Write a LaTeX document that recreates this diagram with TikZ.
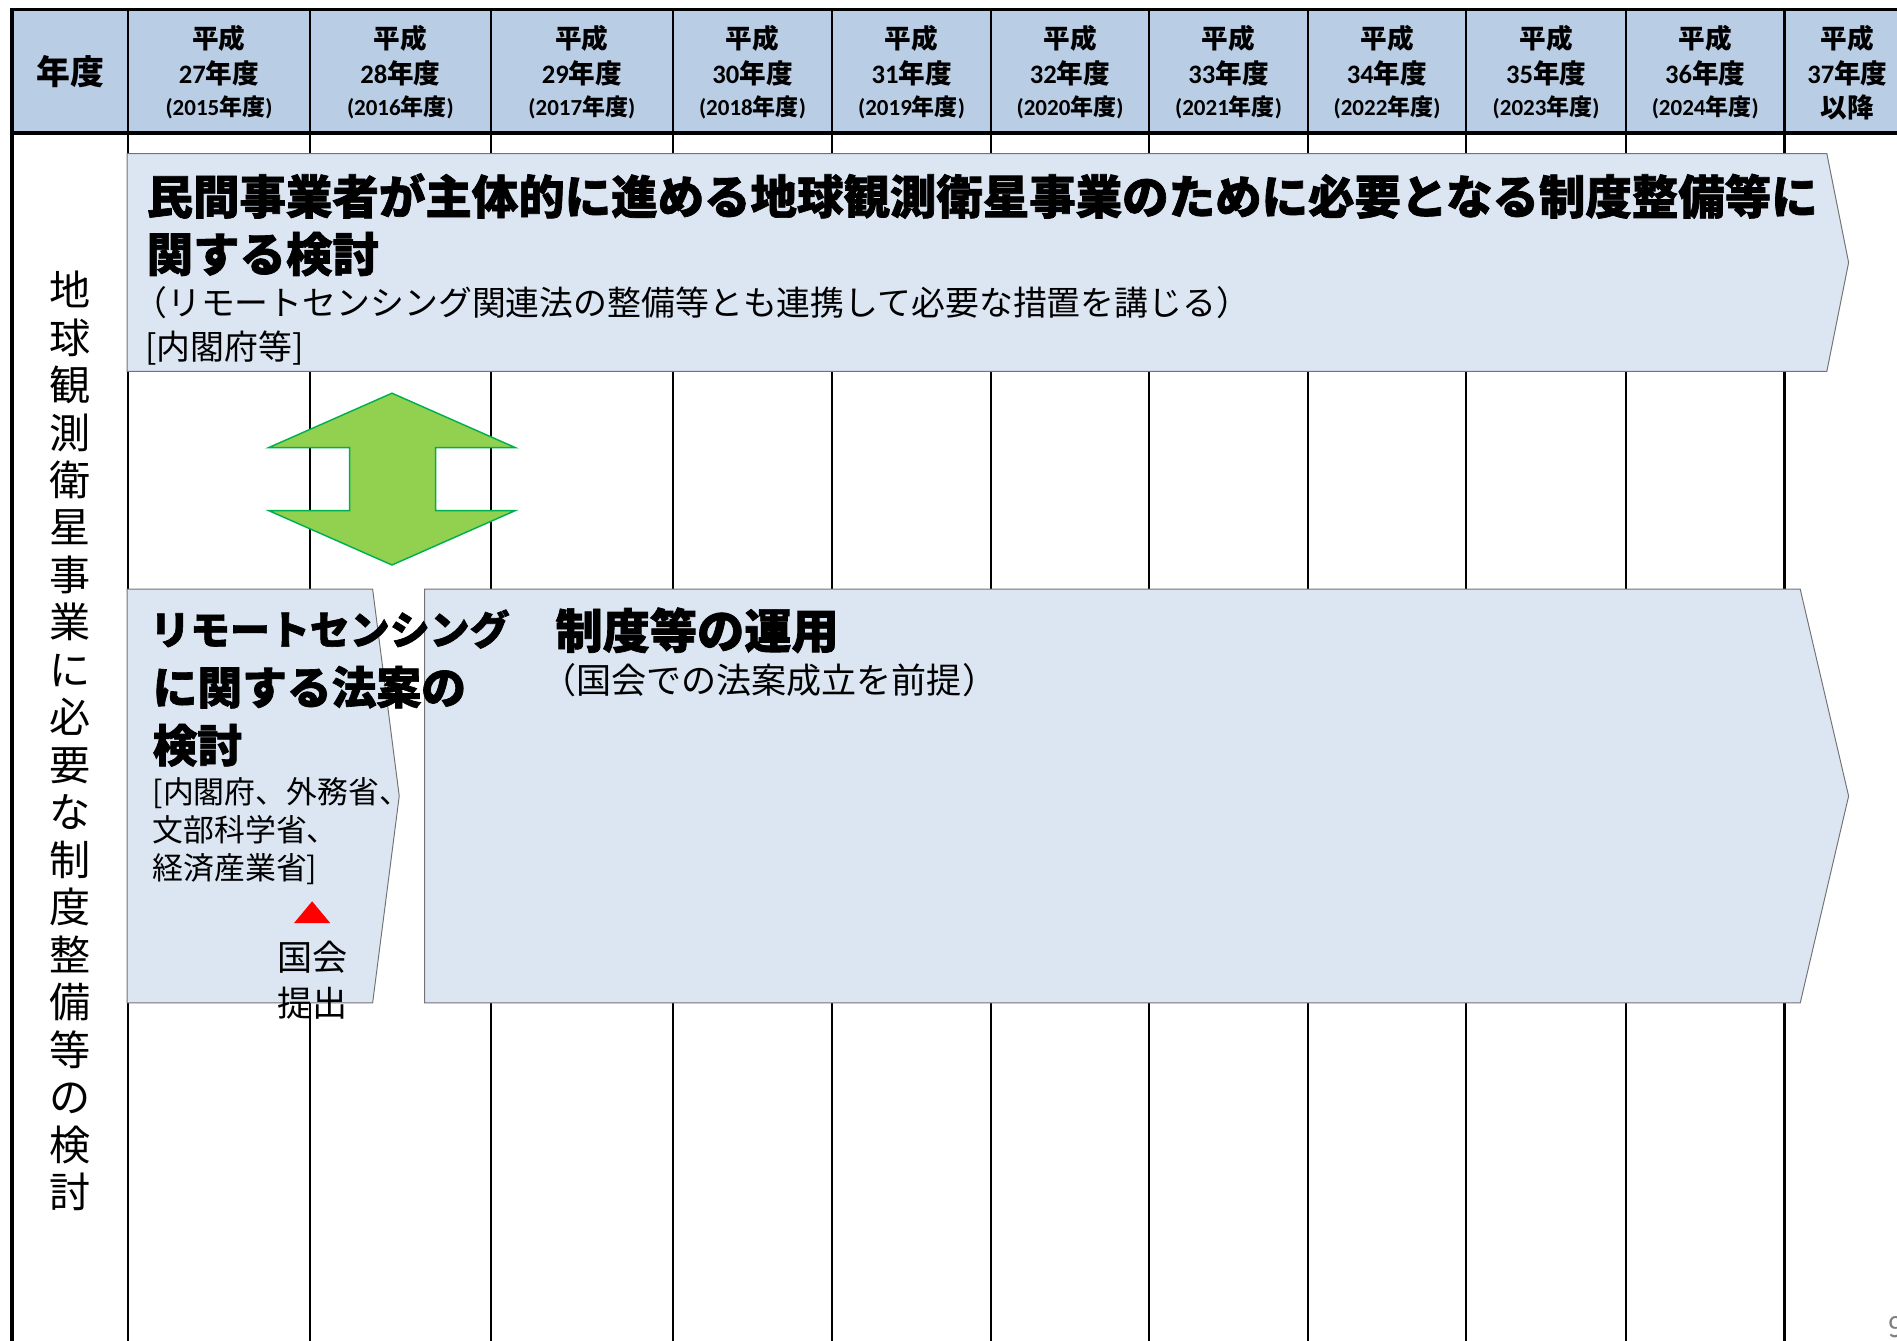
\documentclass[tikz,border=0pt]{standalone}
\usepackage{fontspec}
\setmainfont{Noto Sans CJK JP}
\newfontfamily\heavyfont{Noto Sans CJK JP}[BoldFeatures={FakeBold=1.5}]
\newfontfamily\digitfont{Carlito}
\usepackage{tikz}
\definecolor{headblue}{HTML}{B9CDE5}
\definecolor{boxblue}{HTML}{DCE6F2}
\definecolor{arrowgreen}{HTML}{92D050}
\definecolor{arrowedge}{HTML}{00B050}

\begin{document}
\begin{tikzpicture}[x=1pt,y=-1pt,
        gridline/.style={line width=1.8pt},
        frameline/.style={line width=3pt},
        headtext/.style={font=\bfseries\fontsize{22}{24}\selectfont, inner sep=0pt},
        headsmall/.style={font=\bfseries\fontsize{19}{20}\selectfont, inner sep=0pt},
        planbox/.style={draw=black!55, line width=0.8pt, fill=boxblue},
        heavytext/.style={font=\heavyfont\bfseries\fontsize{38.4}{48}\selectfont, inner sep=0pt, anchor=west, align=left},
        note/.style={font=\fontsize{28}{32}\selectfont, inner sep=0pt, anchor=west, align=left}]
        \useasboundingbox (0,0) rectangle (1568,1108);
        \clip (0,0) rectangle (1568,1108);
        % header row and grid
        \fill[headblue] (10,8) rectangle (1600,110);
        \foreach \x in {106,256,406,556,688,819,950,1081,1212,1344,1475}
            \draw[gridline] (\x,8) -- (\x,1112);
        \draw[frameline] (10,8) -- (1600,8);
        \draw[frameline] (10,110) -- (1600,110);
        \draw[frameline] (10,6.5) -- (10,1112);
        \node[font=\bfseries\fontsize{28}{30}\selectfont, inner sep=0pt] (fyhead) at (58,59) {年度};
        \foreach \cx/\h/\w [count=\i] in {181/27/2015,331/28/2016,481/29/2017,622/30/2018,753.5/31/2019,884.5/32/2020,1015.5/33/2021,1146.5/34/2022,1278/35/2023,1409.5/36/2024}{
            \node[headtext] (era\i) at (\cx,32) {平成};
            \node[headtext] (fy\i) at (\cx,61) {{\digitfont\h}年度};
            \node[headsmall] (ad\i) at (\cx,89) {{\digitfont(\w}年度{\digitfont)}};
        }
        \node[headtext] (eralast) at (1527,32) {平成};
        \node[headtext] (fylast) at (1527,61) {{\digitfont 37}年度};
        \node[headtext] (adlast) at (1527,89) {以降};
        % row label
        \node[font=\fontsize{34}{39.25}\selectfont, align=center, inner sep=0pt] (rowlabel) at (58,612.5)
            {地\\球\\観\\測\\衛\\星\\事\\業\\に\\必\\要\\な\\制\\度\\整\\備\\等\\の\\検\\討};
        % study of the system
        \draw[planbox] (105,127) -- (1510,127) -- (1528,217) -- (1510,307) -- (105,307) -- cycle;
        \node[heavytext] (studyone) at (121,162) {民間事業者が主体的に進める地球観測衛星事業のために必要となる制度整備等に};
        \node[heavytext] (studytwo) at (121,210) {関する検討};
        \node[note] (studynote) at (110,250) {（リモートセンシング関連法の整備等とも連携して必要な措置を講じる）};
        \node[note] (studyorg) at (120,288) {[内閣府等]};
        % link between the two rows
        \draw[fill=arrowgreen, draw=arrowedge, line width=1.2pt] (324,325) -- (426,370) -- (360,370) -- (360,422) -- (426,422)
            -- (324,467) -- (222,422) -- (289,422) -- (289,370) -- (222,370) -- cycle;
        % bill and operation
        \draw[planbox] (105,487) -- (308,487) -- (330,658) -- (308,829) -- (105,829) -- cycle;
        \draw[planbox] (351,487) -- (1488,487) -- (1528,658) -- (1488,829) -- (351,829) -- cycle;
        \node[heavytext, font=\heavyfont\bfseries\fontsize{33}{48}\selectfont] (billone) at (124,520) {リモートセンシング};
        \node[heavytext, font=\heavyfont\bfseries\fontsize{37}{48}\selectfont] (billtwo) at (126,568) {に関する法案の};
        \node[heavytext, font=\heavyfont\bfseries\fontsize{37}{48}\selectfont] (billthree) at (126,616) {検討};
        \node[note, font=\fontsize{25.5}{31.5}\selectfont] (billorg) at (126,687) {[内閣府、外務省、\\文部科学省、\\経済産業省]};
        \fill[red] (243,763) -- (258,745) -- (273,763) -- cycle;
        \node[font=\fontsize{29}{38}\selectfont, align=center, inner sep=0pt] (diet) at (258,810) {国会\\提出};
        \node[heavytext, font=\heavyfont\bfseries\fontsize{39}{48}\selectfont] (opstitle) at (459,521) {制度等の運用};
        \node[note, font=\fontsize{29}{32}\selectfont] (opsnote) at (447,562) {（国会での法案成立を前提）};
        \node[text=black!50, font=\fontsize{24}{26}\selectfont, inner sep=0pt, anchor=west] (pagenum) at (1561,1097) {9};
\end{tikzpicture}
\end{document}
